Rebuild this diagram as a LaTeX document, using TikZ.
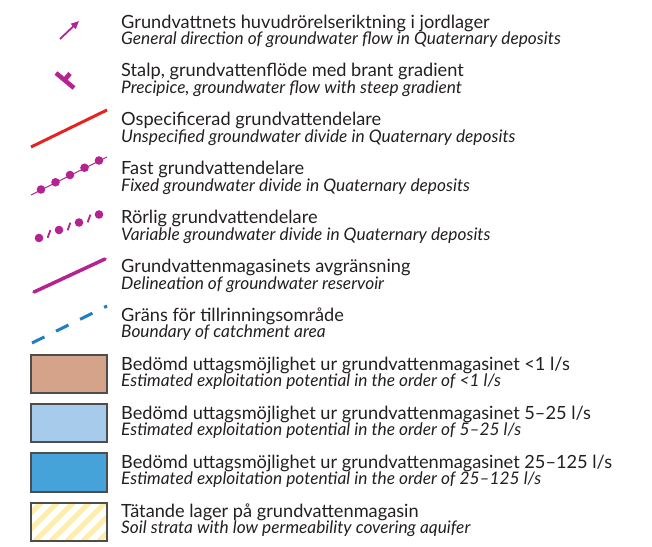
\documentclass[tikz,border=0pt]{standalone}
\usepackage{fontspec}
\setmainfont{Lato}
\usetikzlibrary{arrows.meta}
\definecolor{mag}{HTML}{B4238F}
\definecolor{redl}{HTML}{E52421}
\definecolor{bluel}{HTML}{1F7DC1}
\definecolor{brownf}{HTML}{D5A38A}
\definecolor{lbluef}{HTML}{A6CBEB}
\definecolor{mbluef}{HTML}{46A3DA}
\definecolor{stripe}{HTML}{FDEEB0}
\definecolor{boxb}{HTML}{4D4D4D}
\definecolor{txt}{HTML}{231F20}
\begin{document}
\begin{tikzpicture}[x=1pt,y=-1pt,
  sv/.style={anchor=base west,inner sep=0pt,font=\fontsize{18.2}{20}\selectfont,text=txt},
  en/.style={anchor=base west,inner sep=0pt,font=\fontsize{17.3}{19}\selectfont\itshape,text=txt},
  legbox/.style={draw=boxb,line width=1.1pt},
  dotm/.style={fill=mag,draw=none}]
\useasboundingbox (0,0) rectangle (652,546);
% texts
\foreach \i/\s/\e in {
 0/{Grundvattnets huvudrörelseriktning i jordlager}/{General direction of groundwater flow in Quaternary deposits},
 1/{Stalp, grundvattenflöde med brant gradient}/{Precipice, groundwater flow with steep gradient},
 2/{Ospecificerad grundvattendelare}/{Unspecified groundwater divide in Quaternary deposits},
 3/{Fast grundvattendelare}/{Fixed groundwater divide in Quaternary deposits},
 4/{Rörlig grundvattendelare}/{Variable groundwater divide in Quaternary deposits},
 5/{Grundvattenmagasinets avgränsning}/{Delineation of groundwater reservoir},
 6/{Gräns för tillrinningsområde}/{Boundary of catchment area},
 7/{Bedömd uttagsmöjlighet ur grundvattenmagasinet <1 l/s}/{Estimated exploitation potential in the order of <1 l/s},
 8/{Bedömd uttagsmöjlighet ur grundvattenmagasinet 5–25 l/s}/{Estimated exploitation potential in the order of 5–25 l/s},
 9/{Bedömd uttagsmöjlighet ur grundvattenmagasinet 25–125 l/s}/{Estimated exploitation potential in the order of 25–125 l/s},
 10/{Tätande lager på grundvattenmagasin}/{Soil strata with low permeability covering aquifer}}{
  \node[sv] (s\i) at (121,{28+48.9*\i}) {\s};
  \node[en] (e\i) at (121,{44.5+48.9*\i}) {\e};
}
% 1 arrow
\draw[mag,line width=1.8pt,-{Triangle[length=8pt,width=7pt]}] (60,39) -- (79,21);
% 2 precipice
\draw[mag,line width=4.5pt] (56,73) -- (74,88);
\draw[mag,line width=4.5pt] (64.5,80) -- (70,73.5);
% 3 red
\draw[redl,line width=3pt] (31,147) -- (107,110);
% 4 fixed divide
\draw[mag,line width=1.1pt] (31,195) -- (107,157);
\foreach \x in {41,55.5,70,84.5,99}{
  \fill[dotm] (\x,{195-(\x-31)/2-0.5}) circle (4.3);
}
% 5 variable divide
\foreach \x/\y in {39/238,59/230,79/222.5,99/214.5}{
  \fill[dotm] (\x,\y) circle (4.3);
}
\foreach \x/\y in {49/234,69/226.5,89/218.5}{
  \draw[mag,line width=1.8pt] (\x-1.4,\y+3.8) -- (\x+1.4,\y-3.8);
}
% 6 magenta line
\draw[mag,line width=3.5pt,line cap=round] (34,292) -- (105,259);
% 7 blue dashed
\draw[bluel,line width=3pt,dash pattern=on 13.8pt off 13pt] (32,343) -- (107,306);
% boxes
\draw[legbox,fill=brownf] (31,355) rectangle (107,393);
\draw[legbox,fill=lbluef] (31,404) rectangle (107,442);
\draw[legbox,fill=mbluef] (31,453) rectangle (107,492);
\begin{scope}
  \clip (31,503) rectangle (107,541);
  \foreach \k in {-60,-44,...,120}{
    \draw[stripe,line width=5pt] (31+\k,541) -- (31+\k+40,501);
  }
\end{scope}
\draw[legbox] (31,503) rectangle (107,541);
\end{tikzpicture}
\end{document}
